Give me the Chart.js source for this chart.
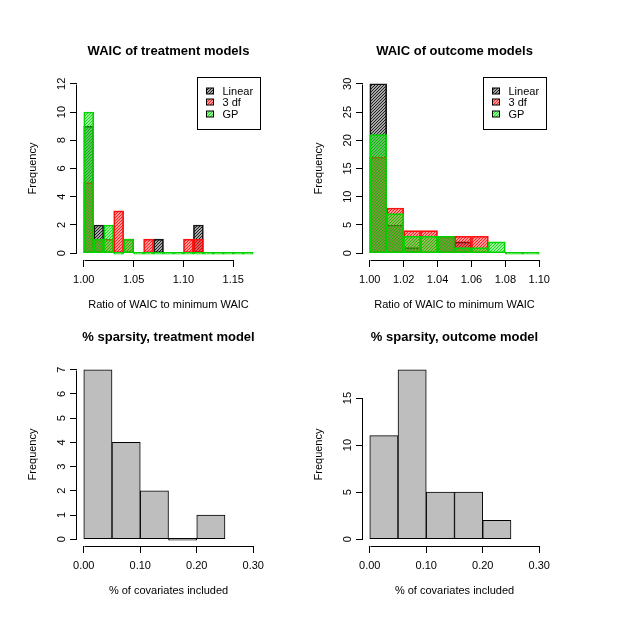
<!DOCTYPE html>
<html>
<head>
<meta charset="utf-8">
<script src="https://cdn.jsdelivr.net/npm/chart.js@4.4.1/dist/chart.umd.min.js"></script>
<style>
  body { margin: 0; background: #fff; width: 623px; height: 623px; overflow: hidden; position: relative; }
  canvas { position: absolute; }
</style>
</head>
<body>
<canvas id="treatWaic" width="311" height="330" style="left:0;top:0"></canvas>
<canvas id="outWaic" width="311" height="330" style="left:286px;top:0"></canvas>
<canvas id="treatSparse" width="311" height="330" style="left:0;top:286px"></canvas>
<canvas id="outSparse" width="311" height="330" style="left:286px;top:286px"></canvas>
<script>
// bin edges
const treatBreaks = [1.00, 1.01, 1.02, 1.03, 1.04, 1.05, 1.06, 1.07, 1.08, 1.09, 1.10, 1.11, 1.12, 1.13, 1.14, 1.15, 1.16, 1.17];
const outBreaks = [1.00, 1.01, 1.02, 1.03, 1.04, 1.05, 1.06, 1.07, 1.08, 1.09, 1.10];
const sparseBreaks = [0.00, 0.05, 0.10, 0.15, 0.20, 0.25];

// counts per bin
const treatLinear = [9, 2, 0, 0, 0, 0, 0, 1, 0, 0, 0, 2, 0, 0, 0, 0, 0];
const treat3df    = [5, 1, 1, 3, 1, 0, 1, 0, 0, 0, 1, 1, 0, 0, 0, 0, 0];
const treatGP     = [10, 1, 2, 0, 1, 0, 0, 0, 0, 0, 0, 0, 0, 0, 0, 0, 0];

const outLinear = [30, 5, 1, 0, 3, 2, 0, 0, 0, 0];
const out3df    = [17, 8, 4, 4, 3, 3, 3, 0, 0, 0];
const outGP     = [21, 7, 3, 3, 3, 1, 1, 2, 0, 0];

const sparseTreat = [7, 4, 2, 0, 1];
const sparseOut   = [11, 18, 5, 5, 2];

// axis ticks and limits
const treatXTicks = [1.00, 1.05, 1.10, 1.15];
const treatYTicks = [0, 2, 4, 6, 8, 10, 12];
const outXTicks = [1.00, 1.02, 1.04, 1.06, 1.08, 1.10];
const outYTicks = [0, 5, 10, 15, 20, 25, 30];
const sparseXTicks = [0.00, 0.10, 0.20, 0.30];
const sparseTreatYTicks = [0, 1, 2, 3, 4, 5, 6, 7];
const sparseOutYTicks = [0, 5, 10, 15];

const treatXLim = [1.00, 1.17], treatYLim = [0, 12];
const outXLim = [1.00, 1.10], outYLim = [0, 30];
const sparseXLim = [0, 0.30];
const sparseTreatYLim = [0, 7], sparseOutYLim = [0, 18];

const modelLabels = ['Linear', '3 df', 'GP'];

Chart.defaults.font.family = '"Liberation Sans", Arial, Helvetica, sans-serif';
Chart.defaults.font.size = 11;
Chart.defaults.color = '#000';

function hatch(bg, line) {
  const c = document.createElement('canvas');
  c.width = 3; c.height = 3;
  const g = c.getContext('2d');
  g.fillStyle = bg;
  g.fillRect(0, 0, 3, 3);
  g.strokeStyle = line;
  g.lineWidth = 1;
  g.beginPath();
  g.moveTo(-1, 4); g.lineTo(4, -1);
  g.stroke();
  return c;
}

const tiles = {
  black: hatch('rgba(0,0,0,0.35)', 'rgba(0,0,0,0.8)'),
  red: hatch('rgba(255,0,0,0.4)', 'rgba(255,0,0,0.8)'),
  green: hatch('rgba(0,235,0,0.4)', 'rgba(0,200,0,0.8)')
};
const borders = { black: 'rgba(0,0,0,0.9)', red: 'rgb(255,20,20)', green: 'rgb(0,210,0)' };

function bins(breaks, counts) {
  return counts.map((n, i) => ({ x: (breaks[i] + breaks[i + 1]) / 2, y: n }));
}

function expand(lim) {
  const d = (lim[1] - lim[0]) * 0.04;
  return [lim[0] - d, lim[1] + d];
}

// R style axis lines: only between first and last tick
const axisLines = {
  id: 'axisLines',
  afterDraw(chart) {
    const { ctx, chartArea, scales: { x, y } } = chart;
    ctx.save();
    ctx.strokeStyle = '#000';
    ctx.lineWidth = 1;
    ctx.beginPath();
    const yb = Math.round(chartArea.bottom) + 0.5;
    ctx.moveTo(Math.round(x.getPixelForValue(x.ticks[0].value)) + 0.5, yb);
    ctx.lineTo(Math.round(x.getPixelForValue(x.ticks[x.ticks.length - 1].value)) + 0.5, yb);
    const xl = Math.round(chartArea.left) - 0.5;
    ctx.moveTo(xl, Math.round(y.getPixelForValue(y.ticks[0].value)) + 0.5);
    ctx.lineTo(xl, Math.round(y.getPixelForValue(y.ticks[y.ticks.length - 1].value)) + 0.5);
    ctx.stroke();
    ctx.restore();
  }
};

// boxed legend in the top right corner of the plot
const boxLegend = {
  id: 'boxLegend',
  afterDraw(chart) {
    const sets = chart.data.datasets;
    if (sets.length < 2) return;
    const { ctx, chartArea } = chart;
    const w = 63, h = 52;
    const left = Math.round(chartArea.right - w) + 0.5;
    const top = Math.round(chartArea.top) + 0.5;
    ctx.save();
    ctx.fillStyle = '#fff';
    ctx.fillRect(left, top, w, h);
    ctx.strokeStyle = '#000';
    ctx.lineWidth = 1;
    ctx.strokeRect(left, top, w, h);
    ctx.font = '11px "Liberation Sans", Arial, sans-serif';
    ctx.textBaseline = 'middle';
    sets.forEach((ds, i) => {
      const cy = Math.round(top + 13 + i * 11.5);
      ctx.fillStyle = ds.backgroundColor;
      ctx.fillRect(left + 9, cy - 3, 7, 6);
      ctx.strokeStyle = '#000';
      ctx.strokeRect(left + 9, cy - 3, 7, 6);
      ctx.fillStyle = '#000';
      ctx.fillText(ds.label, left + 25, cy + 0.5);
    });
    ctx.restore();
  }
};

function histChart(id, cfg) {
  const canvas = document.getElementById(id);
  const ctx = canvas.getContext('2d');
  const xr = expand(cfg.xLim), yr = expand(cfg.yLim);
  const digits = String(Math.max(...cfg.yTicks)).length;
  const last = cfg.series.length - 1;
  const datasets = cfg.series.map((s, i) => ({
    label: s.label,
    data: bins(cfg.breaks, s.counts),
    backgroundColor: s.tile ? ctx.createPattern(s.tile, 'repeat') : s.fill,
    borderColor: s.border,
    borderWidth: 1,
    borderSkipped: false,
    // empty bins show as a flat line, the top series covers the others
    minBarLength: i === last ? 2 : 0,
    grouped: false,
    barPercentage: 1,
    categoryPercentage: 1,
    order: cfg.series.length - i
  }));
  const tickGrid = { display: true, offset: false, drawOnChartArea: false, drawTicks: true, tickLength: 7, color: '#000', tickColor: '#000', lineWidth: 1 };
  return new Chart(ctx, {
    type: 'bar',
    data: { datasets },
    options: {
      responsive: false,
      animation: false,
      layout: { padding: { left: 0, top: 0, right: 51, bottom: 0 } },
      plugins: {
        legend: { display: false },
        tooltip: { enabled: false },
        title: {
          display: true,
          text: cfg.title,
          fullSize: false,
          color: '#000',
          font: { size: 13, weight: 'bold', lineHeight: 1.2 },
          padding: { top: 44, bottom: 17.4 }
        }
      },
      scales: {
        x: {
          type: 'linear',
          min: xr[0],
          max: xr[1],
          bounds: 'data',
          offset: false,
          grid: tickGrid,
          border: { display: false },
          ticks: { autoSkip: false, minRotation: 0, maxRotation: 0, padding: 6, callback: v => v.toFixed(2) },
          title: { display: true, text: cfg.xTitle, padding: { top: 0, bottom: 18.4 } },
          afterBuildTicks: s => { s.ticks = cfg.xTicks.map(v => ({ value: v })); },
          afterFit: s => { s.height = 70; }
        },
        y: {
          type: 'linear',
          min: yr[0],
          max: yr[1],
          bounds: 'data',
          grid: tickGrid,
          border: { display: false },
          ticks: { autoSkip: false, minRotation: 90, maxRotation: 90, crossAlign: 'center', padding: 8.5 - digits * 3.06, callback: v => String(v) },
          title: { display: true, text: 'Frequency', padding: { top: 26.4, bottom: 0 } },
          afterBuildTicks: s => { s.ticks = cfg.yTicks.map(v => ({ value: v })); },
          afterFit: s => { s.width = 77; }
        }
      }
    },
    plugins: [axisLines, boxLegend]
  });
}

histChart('treatWaic', {
  title: 'WAIC of treatment models',
  xTitle: 'Ratio of WAIC to minimum WAIC',
  breaks: treatBreaks, xLim: treatXLim, yLim: treatYLim, xTicks: treatXTicks, yTicks: treatYTicks,
  series: [
    { label: modelLabels[0], counts: treatLinear, tile: tiles.black, border: borders.black },
    { label: modelLabels[1], counts: treat3df, tile: tiles.red, border: borders.red },
    { label: modelLabels[2], counts: treatGP, tile: tiles.green, border: borders.green }
  ]
});

histChart('outWaic', {
  title: 'WAIC of outcome models',
  xTitle: 'Ratio of WAIC to minimum WAIC',
  breaks: outBreaks, xLim: outXLim, yLim: outYLim, xTicks: outXTicks, yTicks: outYTicks,
  series: [
    { label: modelLabels[0], counts: outLinear, tile: tiles.black, border: borders.black },
    { label: modelLabels[1], counts: out3df, tile: tiles.red, border: borders.red },
    { label: modelLabels[2], counts: outGP, tile: tiles.green, border: borders.green }
  ]
});

histChart('treatSparse', {
  title: '% sparsity, treatment model',
  xTitle: '% of covariates included',
  breaks: sparseBreaks, xLim: sparseXLim, yLim: sparseTreatYLim, xTicks: sparseXTicks, yTicks: sparseTreatYTicks,
  series: [{ label: 'Treatment', counts: sparseTreat, fill: '#bebebe', border: '#000' }]
});

histChart('outSparse', {
  title: '% sparsity, outcome model',
  xTitle: '% of covariates included',
  breaks: sparseBreaks, xLim: sparseXLim, yLim: sparseOutYLim, xTicks: sparseXTicks, yTicks: sparseOutYTicks,
  series: [{ label: 'Outcome', counts: sparseOut, fill: '#bebebe', border: '#000' }]
});
</script>
</body>
</html>
